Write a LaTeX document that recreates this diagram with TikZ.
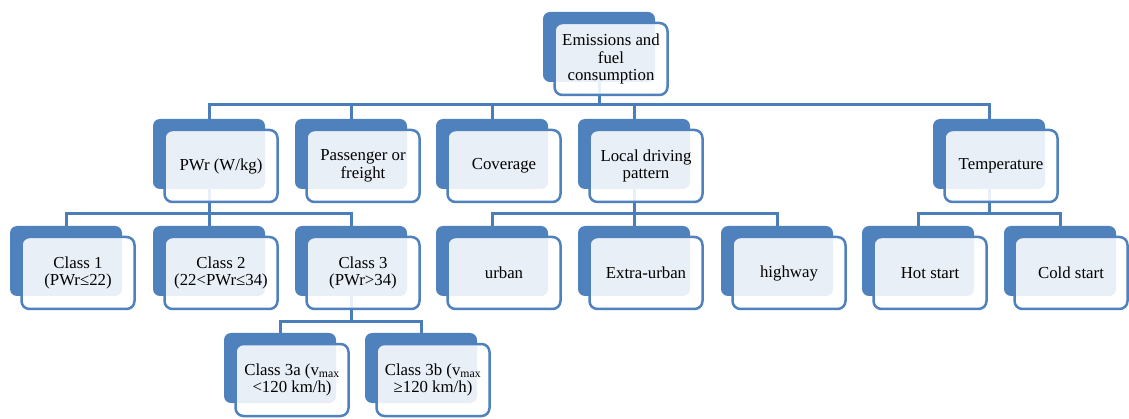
\documentclass[tikz,border=0pt]{standalone}
\usepackage{fontspec}
\setmainfont{Liberation Serif}
\usetikzlibrary{backgrounds}
\definecolor{boxblue}{HTML}{4F81BD}
\definecolor{lineblue}{HTML}{4A7DBA}
\begin{document}
\begin{tikzpicture}[x=1pt,y=-1pt,
  backbox/.style={fill=boxblue, rounded corners=7pt, minimum width=112pt, minimum height=70pt, inner sep=0pt},
  frontbox/.style={draw=boxblue, line width=2.5pt, fill=white, fill opacity=0.88, text opacity=1, rounded corners=8pt, minimum width=113pt, minimum height=72pt, inner sep=0pt, align=center, font=\fontsize{16.8}{17.5}\selectfont},
  conn/.style={draw=lineblue, line width=3pt}]
\useasboundingbox (0,0) rectangle (1129,419);
% top
\node[backbox] (topB) at (599,47) {};
\node[frontbox] (top) at (611,59) {Emissions and\\fuel\\consumption};
% level 1
\node[backbox] (pwrB) at (209,154) {};
\node[frontbox] (pwr) at (221,166) {PWr (W/kg)};
\node[backbox] (passB) at (351,154) {};
\node[frontbox] (pass) at (363,166) {Passenger or\\freight};
\node[backbox] (covB) at (492,154) {};
\node[frontbox] (cov) at (504,166) {Coverage};
\node[backbox] (locB) at (634,154) {};
\node[frontbox] (loc) at (646,166) {Local driving\\pattern};
\node[backbox] (tempB) at (989,154) {};
\node[frontbox] (temp) at (1001,166) {Temperature};
% level 2
\node[backbox] (c1B) at (66,261) {};
\node[frontbox] (c1) at (78,273) {Class 1\\(PWr≤22)};
\node[backbox] (c2B) at (209,261) {};
\node[frontbox] (c2) at (221,273) {Class 2\\(22<PWr≤34)};
\node[backbox] (c3B) at (351,261) {};
\node[frontbox] (c3) at (363,273) {Class 3\\(PWr>34)};
\node[backbox] (urbB) at (492,261) {};
\node[frontbox] (urb) at (504,273) {urban};
\node[backbox] (extB) at (634,261) {};
\node[frontbox] (ext) at (646,273) {Extra-urban};
\node[backbox] (hwyB) at (777,261) {};
\node[frontbox] (hwy) at (789,273) {highway};
\node[backbox] (hotB) at (918,261) {};
\node[frontbox] (hot) at (930,273) {Hot start};
\node[backbox] (coldB) at (1060,261) {};
\node[frontbox] (cold) at (1071,273) {Cold start};
% level 3
\node[backbox] (c3aB) at (280,368) {};
\node[frontbox] (c3a) at (292,380) {Class 3a (v\textsubscript{max}\\<120 km/h)};
\node[backbox] (c3bB) at (421,368) {};
\node[frontbox] (c3b) at (433,380) {Class 3b (v\textsubscript{max}\\≥120 km/h)};
% connectors
\begin{scope}[on background layer]
\draw[conn] (topB.south) -- ++(0,23);
\draw[conn] (pwrB.north) -- ++(0,-14) -| (tempB.north);
\draw[conn] (passB.north) -- ++(0,-14);
\draw[conn] (covB.north) -- ++(0,-14);
\draw[conn] (locB.north) -- ++(0,-14);
\draw[conn] (pwrB.south) -- ++(0,25);
\draw[conn] (c1B.north) -- ++(0,-12) -| (c3B.north);
\draw[conn] (c2B.north) -- ++(0,-12);
\draw[conn] (locB.south) -- ++(0,25);
\draw[conn] (urbB.north) -- ++(0,-12) -| (hwyB.north);
\draw[conn] (extB.north) -- ++(0,-12);
\draw[conn] (tempB.south) -- ++(0,25);
\draw[conn] (hotB.north) -- ++(0,-12) -| (coldB.north);
\draw[conn] (c3B.south) -- ++(0,26);
\draw[conn] (c3aB.north) -- ++(0,-11) -| (c3bB.north);
\end{scope}
\end{tikzpicture}
\end{document}
